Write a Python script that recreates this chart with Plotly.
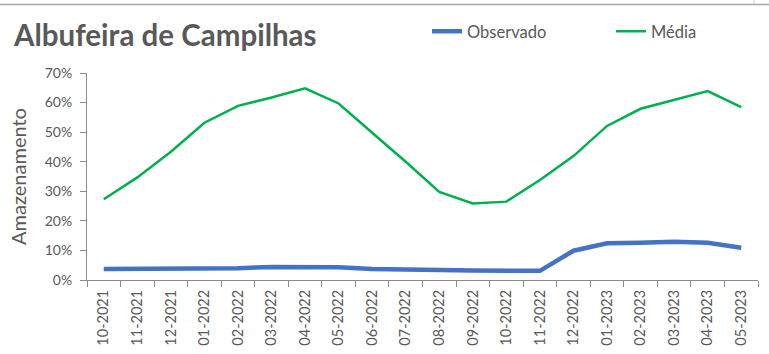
import plotly.graph_objects as go

# Monthly storage levels, Albufeira de Campilhas
months = ["10-2021", "11-2021", "12-2021", "01-2022", "02-2022", "03-2022",
          "04-2022", "05-2022", "06-2022", "07-2022", "08-2022", "09-2022",
          "10-2022", "11-2022", "12-2022", "01-2023", "02-2023", "03-2023",
          "04-2023", "05-2023"]
observado = [3.7, 3.7, 3.9, 3.9, 4.0, 4.4, 4.5, 4.3, 3.7, 3.4,
             3.4, 3.2, 3.1, 3.1, 9.9, 12.4, 12.6, 12.9, 12.6, 10.9]
media = [27.3, 34.7, 43.4, 53.2, 58.9, 61.7, 64.8, 59.7, 49.8, 40.0,
         29.8, 25.9, 26.5, 33.8, 41.9, 52.1, 57.9, 61.0, 63.9, 58.5]
y_ticks = [0, 10, 20, 30, 40, 50, 60, 70]

FONT = "Lato"
GREY = "#595959"
AXIS = "#8c8c8c"

W, H = 769, 354
ML, MR, MT, MB = 87, 11, 73, 74
PW, PH = W - ML - MR, H - MT - MB


def px_x(x):
    return (x - ML) / PW


def px_y(y):
    return 1 - (y - MT) / PH


def legend_box(x):
    return dict(
        orientation="h", x=px_x(x), y=px_y(31.5),
        xanchor="left", yanchor="middle",
        font=dict(family=FONT, size=16.5, color=GREY),
        itemwidth=30, bgcolor="rgba(0,0,0,0)",
    )


fig = go.Figure()
fig.add_trace(go.Scatter(
    x=months, y=[v / 100 for v in observado], name="Observado",
    mode="lines", line=dict(color="#4472C4", width=4.5), legend="legend",
))
fig.add_trace(go.Scatter(
    x=months, y=[v / 100 for v in media], name="Média",
    mode="lines", line=dict(color="#00B050", width=2.5), legend="legend2",
))

fig.update_layout(
    width=W, height=H,
    margin=dict(l=ML, r=MR, t=MT, b=MB),
    paper_bgcolor="white", plot_bgcolor="white",
    font=dict(family=FONT, color=GREY, size=14),
    showlegend=True,
    legend=legend_box(427),
    legend2=legend_box(611),
    annotations=[dict(
        text="<b>Albufeira de Campilhas</b>", xref="paper", yref="paper",
        x=px_x(11), y=px_y(34), xanchor="left", yanchor="middle",
        showarrow=False,
        font=dict(family=FONT, size=29.5, color=GREY),
    )],
    shapes=[
        dict(type="line", xref="paper", yref="paper",
             x0=px_x(0), x1=px_x(W), y0=px_y(4.5), y1=px_y(4.5),
             line=dict(color="#a6a6a6", width=1.5)),
        dict(type="line", xref="paper", yref="paper",
             x0=px_x(754), x1=px_x(754), y0=px_y(0), y1=px_y(4.5),
             line=dict(color="#c8c8c8", width=1)),
    ],
)

fig.update_xaxes(
    type="category", range=[-0.5, len(months) - 0.5],
    tickson="boundaries", ticks="outside", ticklen=6, tickcolor=AXIS,
    showline=True, linecolor=AXIS, linewidth=1, showgrid=False,
    tickangle=-90, ticklabelstandoff=3, automargin=False,
    tickfont=dict(family=FONT, size=14.5, color=GREY),
)
fig.update_yaxes(
    range=[0, 0.7], tickvals=[t / 100 for t in y_ticks],
    ticktext=[f"{t}%" for t in y_ticks],
    ticks="outside", ticklen=6, tickcolor=AXIS,
    showline=True, linecolor=AXIS, linewidth=1, showgrid=False,
    zeroline=False, ticklabelstandoff=5, automargin=False,
    tickfont=dict(family=FONT, size=14, color=GREY),
    title=dict(text="Amazenamento", font=dict(family=FONT, size=20, color=GREY),
               standoff=12),
)

fig.write_html("out.html")
